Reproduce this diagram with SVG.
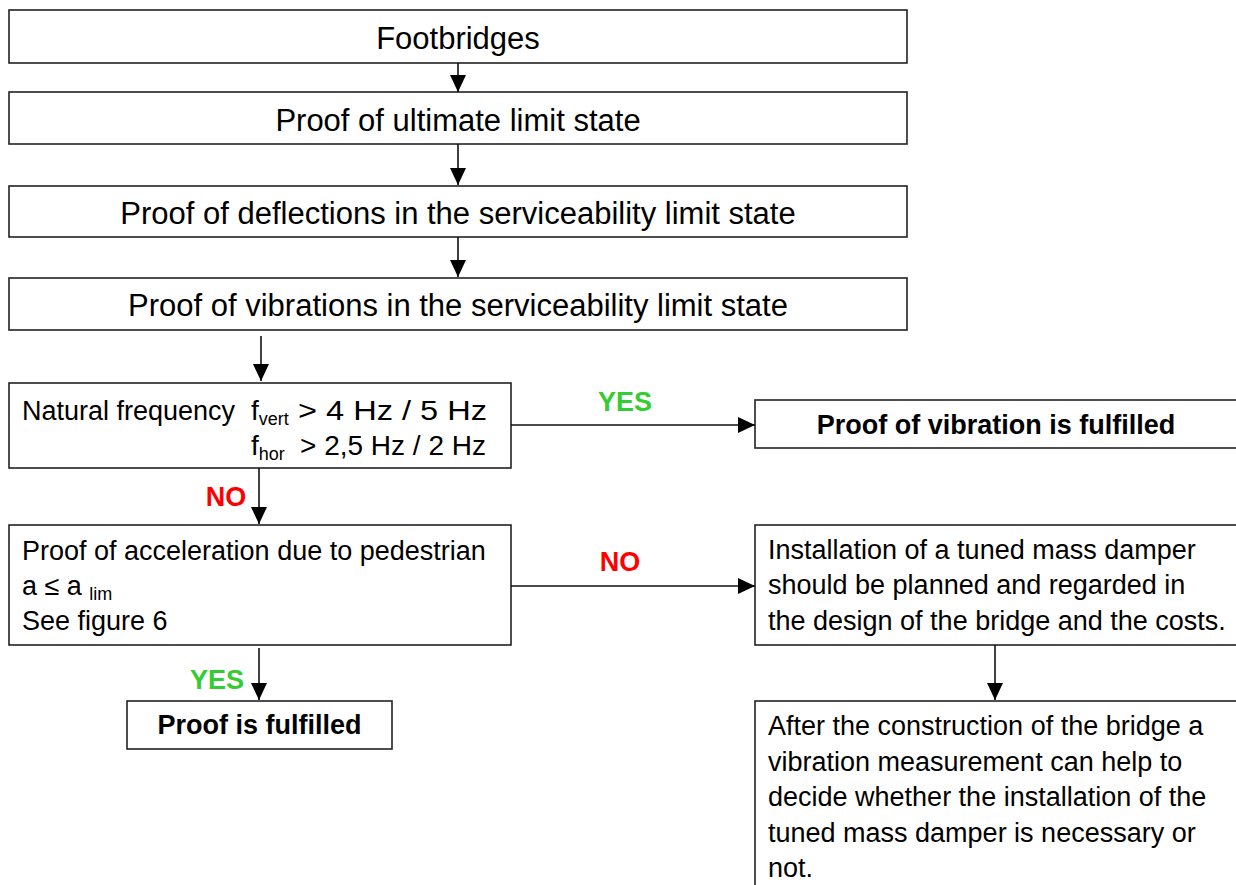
<svg xmlns="http://www.w3.org/2000/svg" width="1236" height="885" viewBox="0 0 1236 885">
<style>
.box{fill:#fff;stroke:#222;stroke-width:1.6}
.t31{font-family:"Liberation Sans",Arial,sans-serif;font-size:31px;fill:#000}
.t27{font-family:"Liberation Sans",Arial,sans-serif;font-size:27px;fill:#000}
.t28{font-family:"Liberation Sans",Arial,sans-serif;font-size:28px;fill:#000}
.b27{font-family:"Liberation Sans",Arial,sans-serif;font-size:27px;font-weight:bold;fill:#000}
.sub{font-size:18px}
.yes{font-family:"Liberation Sans",Arial,sans-serif;font-size:27px;font-weight:bold;fill:#33cc33}
.no{font-family:"Liberation Sans",Arial,sans-serif;font-size:27px;font-weight:bold;fill:#ff0000}
.conn{stroke:#111;stroke-width:1.6;fill:none;marker-end:url(#ah)}
</style>
<defs>
<marker id="ah" markerUnits="userSpaceOnUse" markerWidth="18" markerHeight="16" refX="17" refY="8" orient="auto">
<path d="M0,0 L17,8 L0,16 z" fill="#000"/>
</marker>
</defs>
<rect width="1236" height="885" fill="#fff"/>

<g id="n1"><rect class="box" x="9" y="10" width="898" height="53"/><text class="t31" x="458" y="49" text-anchor="middle">Footbridges</text></g>
<g id="n2"><rect class="box" x="9" y="92" width="898" height="52"/><text class="t31" x="458" y="131" text-anchor="middle">Proof of ultimate limit state</text></g>
<g id="n3"><rect class="box" x="9" y="186" width="898" height="51"/><text class="t31" x="458" y="224" text-anchor="middle">Proof of deflections in the serviceability limit state</text></g>
<g id="n4"><rect class="box" x="9" y="278" width="898" height="52"/><text class="t31" x="458" y="316" text-anchor="middle">Proof of vibrations in the serviceability limit state</text></g>

<g id="n5"><rect class="box" x="9" y="383" width="502" height="85"/>
<text class="t27" x="22" y="420">Natural frequency</text>
<text class="t28" x="251" y="420">f<tspan class="sub" dy="5">vert</tspan></text>
<text class="t28" x="298" y="420" textLength="189" lengthAdjust="spacingAndGlyphs">&gt; 4 Hz / 5 Hz</text>
<text class="t28" x="251" y="455">f<tspan class="sub" dy="5">hor</tspan></text>
<text class="t28" x="300" y="455">&gt; 2,5 Hz / 2 Hz</text>
</g>

<g id="n6"><rect class="box" x="755" y="400" width="484" height="48"/><text class="b27" x="996" y="434" text-anchor="middle">Proof of vibration is fulfilled</text></g>

<g id="n7"><rect class="box" x="9" y="525" width="502" height="120"/>
<text class="t27" x="22" y="560">Proof of acceleration due to pedestrian</text>
<text class="t27" x="22" y="595">a ≤ a <tspan class="sub" dy="5">lim</tspan></text>
<text class="t27" x="22" y="630">See figure 6</text>
</g>

<g id="n8"><rect class="box" x="755" y="525" width="484" height="120"/>
<text class="t27" x="768" y="559">Installation of a tuned mass damper</text>
<text class="t27" x="768" y="594">should be planned and regarded in</text>
<text class="t27" x="768" y="630">the design of the bridge and the costs.</text>
</g>

<g id="n9"><rect class="box" x="127" y="701" width="265" height="48"/><text class="b27" x="259.5" y="734" text-anchor="middle">Proof is fulfilled</text></g>

<g id="n10"><rect class="box" x="755" y="701" width="484" height="200"/>
<text class="t27" x="768" y="735">After the construction of the bridge a</text>
<text class="t27" x="768" y="771">vibration measurement can help to</text>
<text class="t27" x="768" y="806">decide whether the installation of the</text>
<text class="t27" x="768" y="842">tuned mass damper is necessary or</text>
<text class="t27" x="768" y="877">not.</text>
</g>

<g id="connectors">
<line class="conn" x1="458" y1="63" x2="458" y2="92"/>
<line class="conn" x1="458" y1="144" x2="458" y2="185"/>
<line class="conn" x1="458" y1="237" x2="458" y2="277"/>
<line class="conn" x1="261" y1="336" x2="261" y2="381"/>
<line class="conn" x1="511" y1="425" x2="755" y2="425"/>
<line class="conn" x1="259" y1="468" x2="259" y2="524"/>
<line class="conn" x1="511" y1="586" x2="755" y2="586"/>
<line class="conn" x1="259" y1="648" x2="259" y2="700"/>
<line class="conn" x1="995" y1="645" x2="995" y2="700"/>
<text class="yes" x="625" y="411" text-anchor="middle">YES</text>
<text class="no" x="226" y="506" text-anchor="middle">NO</text>
<text class="no" x="620" y="571" text-anchor="middle">NO</text>
<text class="yes" x="217" y="689" text-anchor="middle">YES</text>
</g>
</svg>
